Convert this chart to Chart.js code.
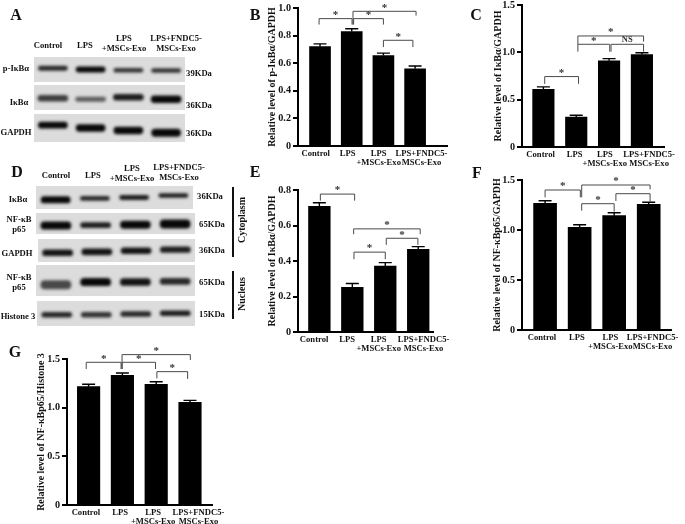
<!DOCTYPE html>
<html lang="en">
<head>
<meta charset="UTF-8">
<title>IκBα and NF-κB p65 levels</title>
<script src="https://cdn.jsdelivr.net/npm/chart.js"></script>
<style>
    html, body { margin: 0; background: #fff; }
    #page { position: relative; width: 685px; height: 524px; overflow: hidden; filter: blur(0.35px); font-family: "Liberation Serif", serif; font-weight: bold; color: #111; }
    #page canvas { position: absolute; }
    .txt { position: absolute; white-space: nowrap; font-size: 8.6px; transform: translate(-50%, -50%); }
    .letter { font-size: 16px; }
    .vert { font-size: 10px; }
    .side { position: absolute; background: #111; width: 1.5px; }
    .strip { position: absolute; background: #dcdcdc; overflow: hidden; }
    .strip canvas { filter: blur(1.4px); }
</style>
</head>
<body>
<div id="page"></div>
<script>
const categories = ['Control', 'LPS', ['LPS', '+MSCs-Exo'], ['LPS+FNDC5-', 'MSCs-Exo']];

const valuesB = [0.72, 0.83, 0.655, 0.56];
const errorsB = [0.02, 0.02, 0.018, 0.02];
const ticksB = [0, 0.2, 0.4, 0.6, 0.8, 1.0];
const valuesC = [0.61, 0.316, 0.91, 0.976];
const errorsC = [0.025, 0.02, 0.024, 0.02];
const ticksC = [0, 0.5, 1.0, 1.5];
const valuesE = [0.708, 0.251, 0.371, 0.466];
const errorsE = [0.02, 0.022, 0.02, 0.015];
const ticksE = [0, 0.2, 0.4, 0.6, 0.8];
const valuesF = [1.267, 1.027, 1.143, 1.257];
const errorsF = [0.025, 0.025, 0.03, 0.02];
const ticksF = [0, 0.5, 1.0, 1.5];
const valuesG = [1.216, 1.333, 1.24, 1.055];
const errorsG = [0.025, 0.023, 0.027, 0.02];
const ticksG = [0, 0.5, 1.0, 1.5];

// significance brackets: from, to, top, left end, right end (all in axis units), label
const bracketsB = [
    [0.97, 2.01, 0.923, 0.88, 0.88, '*'],
    [2.06, 3.0, 0.923, 0.88, 0.88, '*'],
    [2.04, 4.03, 0.976, 0.88, 0.945, '*'],
    [3.0, 3.93, 0.766, 0.717, 0.717, '*']
];
const bracketsC = [
    [1.04, 2.07, 0.744, 0.667, 0.667, '*'],
    [2.05, 3.02, 1.085, 1.007, 1.007, '*'],
    [3.06, 4.05, 1.085, 1.007, 1.007, 'NS'],
    [2.05, 4.05, 1.173, 1.085, 1.113, '*']
];
const bracketsE = [
    [1.03, 2.07, 0.777, 0.74, 0.74, '*'],
    [2.04, 4.06, 0.581, 0.551, 0.551, '*'],
    [3.03, 3.99, 0.528, 0.491, 0.491, '*'],
    [2.05, 3.0, 0.45, 0.41, 0.41, '*']
];
const bracketsF = [
    [1.0, 2.02, 1.4, 1.327, 1.327, '*'],
    [2.06, 4.04, 1.45, 1.327, 1.407, '*'],
    [3.05, 4.04, 1.363, 1.29, 1.277, '*'],
    [2.06, 3.0, 1.263, 1.193, 1.183, '*']
];
const bracketsG = [
    [0.93, 1.96, 1.466, 1.397, 1.397, '*'],
    [1.99, 4.01, 1.545, 1.397, 1.49, '*'],
    [1.99, 2.98, 1.466, 1.397, 1.397, '*'],
    [3.02, 3.93, 1.37, 1.3, 1.295, '*']
];

// where each category name sits along the axis, they are not centred under the bars
const namePosB = [0.865, 1.87, 2.85, 4.2];
const namePosC = [0.915, 1.95, 2.87, 4.22];
const namePosE = [0.84, 1.84, 2.8, 4.16];
const namePosF = [0.91, 1.92, 2.89, 4.11];
const namePosG = [0.92, 1.93, 2.91, 4.25];

// blot bands, one value per lane: centre and thickness as share of strip height, darkness
const pIkbCenter = [0.45, 0.5, 0.53, 0.54], pIkbThick = [0.17, 0.22, 0.15, 0.15], pIkbDark = [0.85, 1, 0.8, 0.8];
const ikbCenter = [0.53, 0.57, 0.49, 0.57], ikbThick = [0.24, 0.17, 0.24, 0.27], ikbDark = [0.75, 0.6, 0.9, 1];
const gapdhCenter = [0.4, 0.5, 0.59, 0.67], gapdhThick = [0.22, 0.24, 0.24, 0.27], gapdhDark = [1, 1, 1, 1];
const cytIkbCenter = [0.6, 0.54, 0.5, 0.41], cytIkbThick = [0.28, 0.18, 0.18, 0.17], cytIkbDark = [1, 0.85, 0.9, 0.9];
const cytP65Center = [0.6, 0.58, 0.56, 0.52], cytP65Thick = [0.35, 0.24, 0.35, 0.4], cytP65Dark = [1, 0.9, 1, 1];
const cytGapdhCenter = [0.6, 0.56, 0.51, 0.46], cytGapdhThick = [0.26, 0.26, 0.26, 0.25], cytGapdhDark = [0.95, 0.95, 0.95, 0.9];
const nucP65Center = [0.64, 0.55, 0.55, 0.53], nucP65Thick = [0.27, 0.24, 0.22, 0.2], nucP65Dark = [0.7, 1, 0.95, 0.85];
const histoneCenter = [0.55, 0.55, 0.52, 0.49], histoneThick = [0.2, 0.2, 0.2, 0.2], histoneDark = [0.85, 0.8, 0.85, 0.9];

const page = document.getElementById('page');
const FONT = '"Liberation Serif", serif';

function addText(text, x, y, cls, rotate) {
    let el = document.createElement('div');
    el.className = 'txt' + (cls ? ' ' + cls : '');
    el.textContent = text;
    el.style.left = x + 'px';
    el.style.top = y + 'px';
    if (rotate) el.style.transform = 'translate(-50%, -50%) rotate(-90deg)';
    page.appendChild(el);
}

function addSideLine(x, top, bottom) {
    let el = document.createElement('div');
    el.className = 'side';
    el.style.left = x + 'px';
    el.style.top = top + 'px';
    el.style.height = (bottom - top) + 'px';
    page.appendChild(el);
}

function addBlot(left, top, width, height, bandWidth, centers, thick, dark) {
    let strip = document.createElement('div');
    strip.className = 'strip';
    strip.style.cssText = 'left:' + left + 'px;top:' + top + 'px;width:' + width + 'px;height:' + height + 'px';
    let canvas = document.createElement('canvas');
    canvas.width = width;
    canvas.height = height;
    strip.appendChild(canvas);
    page.appendChild(strip);

    new Chart(canvas, {
        type: 'bar',
        data: {
            labels: ['1', '2', '3', '4'],
            datasets: [{
                data: centers.map((c, i) => [c - thick[i] / 2, c + thick[i] / 2]),
                backgroundColor: dark.map(d => 'rgba(8,8,8,' + d + ')'),
                borderRadius: 4,
                borderSkipped: false,
                barThickness: bandWidth
            }]
        },
        options: {
            responsive: false,
            animation: false,
            devicePixelRatio: 1,
            layout: { padding: 0 },
            plugins: { legend: { display: false }, tooltip: { enabled: false } },
            scales: {
                x: { display: false },
                y: { display: false, min: 0, max: 1, reverse: true }
            }
        }
    });
}

// error bars and significance brackets, placed with the chart's own scales
const panelMarks = {
    id: 'panelMarks',
    afterDatasetsDraw(chart, args, opts) {
        let ctx = chart.ctx, x = chart.scales.x, y = chart.scales.y;
        ctx.save();
        ctx.strokeStyle = '#000';
        ctx.lineWidth = 1.4;
        opts.values.forEach((v, i) => {
            let px = x.getPixelForValue(i + 1), py = y.getPixelForValue(v + opts.errors[i]);
            ctx.beginPath();
            ctx.moveTo(px, y.getPixelForValue(v));
            ctx.lineTo(px, py);
            ctx.moveTo(px - 6.5, py);
            ctx.lineTo(px + 6.5, py);
            ctx.stroke();
        });
        ctx.strokeStyle = '#4a4a4a';
        ctx.lineWidth = 1;
        ctx.fillStyle = '#333';
        ctx.textAlign = 'center';
        ctx.textBaseline = 'middle';
        opts.brackets.forEach(b => {
            let x0 = x.getPixelForValue(b[0]), x1 = x.getPixelForValue(b[1]), top = y.getPixelForValue(b[2]);
            ctx.beginPath();
            ctx.moveTo(x0, y.getPixelForValue(b[3]));
            ctx.lineTo(x0, top);
            ctx.lineTo(x1, top);
            ctx.lineTo(x1, y.getPixelForValue(b[4]));
            ctx.stroke();
            ctx.font = 'bold ' + (b[5] == '*' ? 11 : 8.5) + 'px ' + FONT;
            ctx.fillText(b[5], (x0 + x1) / 2, top + (b[5] == '*' ? -3.5 : -4.5));
        });
        ctx.restore();
    }
};

function addBarPanel(box, title, values, errors, ticks, brackets, namePos) {
    let axisW = box.titleGap + 5, bottomH = 30, padTop = 18, padRight = 30;
    let canvas = document.createElement('canvas');
    canvas.width = box.right - box.axisX + axisW + padRight;
    canvas.height = box.bottom - box.top + padTop + bottomH;
    canvas.style.left = (box.axisX - axisW) + 'px';
    canvas.style.top = (box.top - padTop) + 'px';
    page.appendChild(canvas);

    let topValue = ticks[ticks.length - 1];

    new Chart(canvas, {
        type: 'bar',
        data: {
            datasets: [{
                data: values.map((v, i) => ({ x: i + 1, y: v })),
                backgroundColor: '#000',
                barThickness: box.barW
            }]
        },
        plugins: [panelMarks],
        options: {
            responsive: false,
            animation: false,
            devicePixelRatio: 1,
            layout: { padding: { top: padTop, right: padRight, left: 0, bottom: 0 } },
            plugins: {
                legend: { display: false },
                tooltip: { enabled: false },
                panelMarks: { values: values, errors: errors, brackets: brackets }
            },
            scales: {
                x: {
                    type: 'linear',
                    offset: false,
                    min: 1 + (box.axisX - box.first) / box.step,
                    max: 1 + (box.right - box.first) / box.step,
                    grid: { display: false, drawTicks: false },
                    border: { color: '#000', width: 2 },
                    afterBuildTicks: s => { s.ticks = namePos.map(p => ({ value: p })); },
                    afterFit: s => { s.height = bottomH; s.paddingLeft = 0; s.paddingRight = 0; },
                    ticks: {
                        autoSkip: false,
                        maxRotation: 0,
                        minRotation: 0,
                        padding: 3,
                        color: '#111',
                        font: { family: FONT, size: 8.6, weight: 'bold', lineHeight: 1.1 },
                        callback: (v, i) => categories[i]
                    }
                },
                y: {
                    min: 0,
                    max: topValue,
                    grid: { drawOnChartArea: false, tickLength: 5, color: '#000', lineWidth: 2 },
                    border: { color: '#000', width: 2 },
                    afterBuildTicks: s => { s.ticks = ticks.map(t => ({ value: t })); },
                    afterFit: s => { s.width = axisW; s.paddingTop = 0; s.paddingBottom = 0; },
                    ticks: {
                        padding: 2,
                        color: '#111',
                        font: { family: FONT, size: 10.2, weight: 'bold' },
                        callback: v => v === 0 ? '0' : v.toFixed(1)
                    },
                    title: {
                        display: true,
                        text: title,
                        color: '#111',
                        padding: 0,
                        font: { family: FONT, size: 10, weight: 'bold', lineHeight: 1 }
                    }
                }
            }
        }
    });
}

// Panel A blots
addBlot(34, 57, 151, 25, 29, pIkbCenter, pIkbThick, pIkbDark);
addBlot(34, 85, 151, 25, 30, ikbCenter, ikbThick, ikbDark);
addBlot(34, 114, 151, 28, 29, gapdhCenter, gapdhThick, gapdhDark);
addText('Control', 48, 45);
addText('LPS', 85, 45);
addText('LPS', 124, 38);
addText('+MSCs-Exo', 124, 48);
addText('LPS+FNDC5-', 176, 38);
addText('MSCs-Exo', 176, 48);
addText('p-IκBα', 16, 68);
addText('IκBα', 19, 102);
addText('GAPDH', 16, 132);
addText('39KDa', 199, 73);
addText('36KDa', 199, 105);
addText('36KDa', 199, 133);

// Panel D blots
addBlot(36, 186, 157, 23, 29, cytIkbCenter, cytIkbThick, cytIkbDark);
addBlot(36, 213, 159, 21, 30, cytP65Center, cytP65Thick, cytP65Dark);
addBlot(38, 239, 157, 23, 30, cytGapdhCenter, cytGapdhThick, cytGapdhDark);
addBlot(36, 265, 159, 31, 30, nucP65Center, nucP65Thick, nucP65Dark);
addBlot(37, 301, 158, 25, 30, histoneCenter, histoneThick, histoneDark);
addText('Control', 56, 175);
addText('LPS', 93, 175);
addText('LPS', 132, 168);
addText('+MSCs-Exo', 132, 178);
addText('LPS+FNDC5-', 179, 167);
addText('MSCs-Exo', 179, 177);
addText('IκBα', 18, 199);
addText('NF-κB', 19, 219);
addText('p65', 19, 229);
addText('GAPDH', 17, 253);
addText('NF-κB', 19, 277);
addText('p65', 19, 287);
addText('Histone 3', 18, 316);
addText('36KDa', 210, 196);
addText('65KDa', 212, 224);
addText('36KDa', 212, 250);
addText('65KDa', 212, 282);
addText('15KDa', 212, 314);
addSideLine(232, 187, 257);
addSideLine(232, 271, 319);
addText('Cytoplasm', 241, 220, 'vert', true);
addText('Nucleus', 241, 294, 'vert', true);

addBarPanel({ axisX: 297.5, right: 447, top: 7.7, bottom: 145.7, first: 319.6, step: 31.8, barW: 21, titleGap: 26 },
    'Relative level of p-IκBα/GAPDH', valuesB, errorsB, ticksB, bracketsB, namePosB);
addBarPanel({ axisX: 522.3, right: 665, top: 5, bottom: 147.3, first: 543.8, step: 33, barW: 21.5, titleGap: 24 },
    'Relative level of IκBα/GAPDH', valuesC, errorsC, ticksC, bracketsC, namePosC);
addBarPanel({ axisX: 298.3, right: 433.5, top: 190, bottom: 332.3, first: 319.7, step: 33, barW: 21.7, titleGap: 26 },
    'Relative level of IκBα/GAPDH', valuesE, errorsE, ticksE, bracketsE, namePosE);
addBarPanel({ axisX: 522.3, right: 672, top: 180, bottom: 330, first: 545.5, step: 34.7, barW: 23, titleGap: 25 },
    'Relative level of NF-κBp65/GAPDH', valuesF, errorsF, ticksF, bracketsF, namePosF);
addBarPanel({ axisX: 66.7, right: 211.7, top: 359, bottom: 505, first: 88.3, step: 33.8, barW: 22.5, titleGap: 26 },
    'Relative level of NF-κBp65/Histone 3', valuesG, errorsG, ticksG, bracketsG, namePosG);

addText('A', 16, 15, 'letter');
addText('B', 255, 15, 'letter');
addText('C', 476, 15, 'letter');
addText('D', 17, 172, 'letter');
addText('E', 255, 172, 'letter');
addText('F', 477, 173, 'letter');
addText('G', 15, 352, 'letter');
</script>
</body>
</html>
